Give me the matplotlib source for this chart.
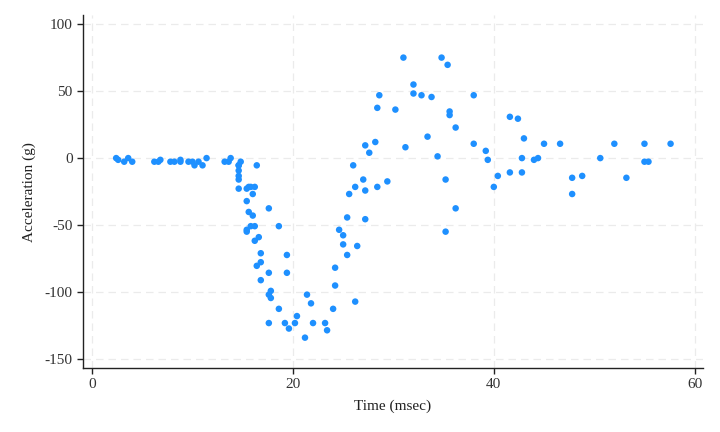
import matplotlib
matplotlib.use('Agg')
import matplotlib.pyplot as plt

# mcycle: head acceleration after simulated motorcycle impact
times = [2.4, 2.6, 3.2, 3.6, 4.0, 6.2, 6.6, 6.8, 7.8, 8.2, 8.8, 8.8, 9.6, 10.0,
         10.2, 10.6, 11.0, 11.4, 13.2, 13.6, 13.8, 14.6, 14.6, 14.6, 14.6, 14.6,
         14.6, 14.8, 15.4, 15.4, 15.4, 15.4, 15.6, 15.6, 15.8, 15.8, 16.0, 16.0,
         16.2, 16.2, 16.2, 16.4, 16.4, 16.6, 16.8, 16.8, 16.8, 17.6, 17.6, 17.6,
         17.6, 17.8, 17.8, 18.6, 18.6, 19.2, 19.4, 19.4, 19.6, 20.2, 20.4, 21.2,
         21.4, 21.8, 22.0, 23.2, 23.4, 24.0, 24.2, 24.2, 24.6, 25.0, 25.0, 25.4,
         25.4, 25.6, 26.0, 26.2, 26.2, 26.4, 27.0, 27.2, 27.2, 27.2, 27.6, 28.2,
         28.4, 28.4, 28.6, 29.4, 30.2, 31.0, 31.2, 32.0, 32.0, 32.8, 33.4, 33.8,
         34.4, 34.8, 35.2, 35.2, 35.4, 35.6, 35.6, 36.2, 36.2, 38.0, 38.0, 39.2,
         39.4, 40.0, 40.4, 41.6, 41.6, 42.4, 42.8, 42.8, 43.0, 44.0, 44.4, 45.0,
         46.6, 47.8, 47.8, 48.8, 50.6, 52.0, 53.2, 55.0, 55.0, 55.4, 57.6]
accel = [0.0, -1.3, -2.7, 0.0, -2.7, -2.7, -2.7, -1.3, -2.7, -2.7, -1.3, -2.7,
         -2.7, -2.7, -5.4, -2.7, -5.4, 0.0, -2.7, -2.7, 0.0, -13.3, -5.4, -5.4,
         -9.3, -16.0, -22.8, -2.7, -22.8, -32.1, -53.5, -54.9, -40.2, -21.5,
         -21.5, -50.8, -42.9, -26.8, -21.5, -50.8, -61.7, -5.4, -80.4, -59.0,
         -71.0, -91.1, -77.7, -37.5, -85.6, -123.1, -101.9, -99.1, -104.4,
         -112.5, -50.8, -123.1, -85.6, -72.3, -127.2, -123.1, -117.9, -134.0,
         -101.9, -108.4, -123.1, -123.1, -128.5, -112.5, -95.1, -81.8, -53.5,
         -64.4, -57.6, -72.3, -44.3, -26.8, -5.4, -107.1, -21.5, -65.6, -16.0,
         -45.6, -24.2, 9.5, 4.0, 12.0, -21.5, 37.5, 46.9, -17.4, 36.2, 75.0,
         8.1, 54.9, 48.2, 46.9, 16.0, 45.6, 1.3, 75.0, -16.0, -54.9, 69.6, 34.8,
         32.1, -37.5, 22.8, 46.9, 10.7, 5.4, -1.3, -21.5, -13.3, 30.8, -10.7,
         29.4, 0.0, -10.7, 14.7, -1.3, 0.0, 10.7, 10.7, -26.8, -14.7, -13.3,
         0.0, 10.7, -14.7, -2.7, 10.7, -2.7, 10.7]

x_ticks = [0, 20, 40, 60]
y_ticks = [-150, -100, -50, 0, 50, 100]

plt.rcParams['font.family'] = ['Liberation Serif', 'DejaVu Serif']
plt.rcParams['axes.unicode_minus'] = False

fig = plt.figure(figsize=(7.2, 4.32), dpi=100)
ax = fig.add_axes([0.1153, 0.148, 0.8607, 0.817])

ax.scatter(times, accel, s=22, color='#1e90ff', edgecolors='none', zorder=3)

ax.set_xlim(-0.9, 60.8)
ax.set_ylim(-156.7, 106.7)
ax.set_xticks(x_ticks)
ax.set_yticks(y_ticks)

ax.grid(True, color='#ebebeb', linestyle=(0, (6, 4)), linewidth=0.9)
ax.set_axisbelow(True)
for side in ['top', 'right']:
    ax.spines[side].set_visible(False)
for side in ['left', 'bottom']:
    ax.spines[side].set_linewidth(1.0)
    ax.spines[side].set_color('#222222')

ax.tick_params(direction='out', length=4, width=1, color='#222222',
               labelsize=11, labelcolor='#333333')
ax.set_xlabel('Time (msec)', fontsize=11, color='#222222', labelpad=6)
ax.set_ylabel('Acceleration (g)', fontsize=11, color='#222222', labelpad=6)

fig.savefig('out.png', dpi=100)
